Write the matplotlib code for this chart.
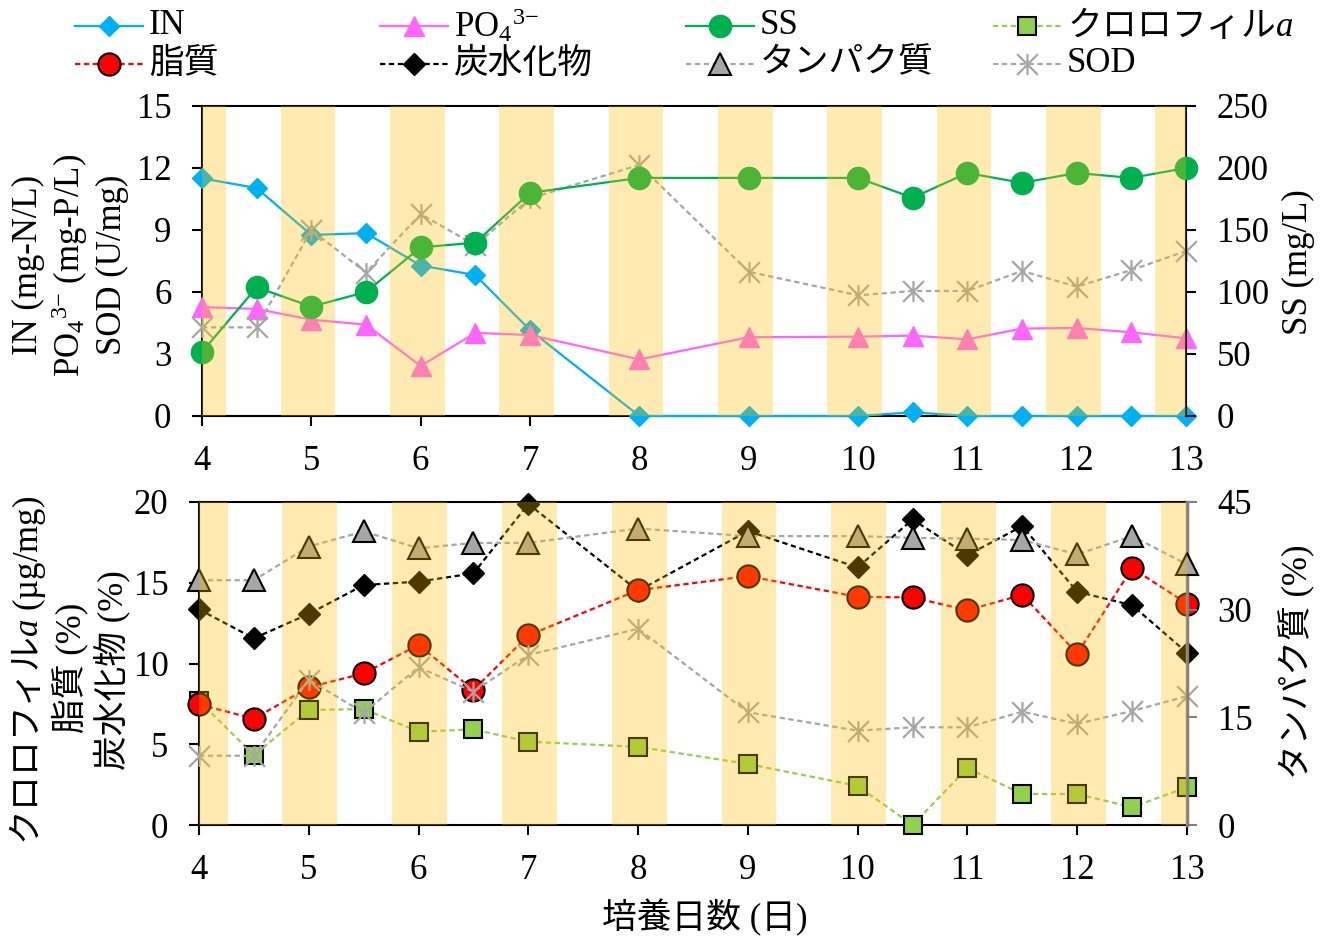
import matplotlib
matplotlib.use("Agg")
import matplotlib.pyplot as plt
from matplotlib.lines import Line2D
from matplotlib.path import Path

plt.rcParams["font.family"] = ["Liberation Serif", "Noto Sans CJK JP"]
plt.rcParams["mathtext.fontset"] = "custom"
plt.rcParams["mathtext.rm"] = "Liberation Serif"
plt.rcParams["mathtext.it"] = "Liberation Serif:italic"
plt.rcParams["mathtext.bf"] = "Liberation Serif:bold"
plt.rcParams["axes.unicode_minus"] = True

# ---- data -------------------------------------------------------------
days = [4, 4.5, 5, 5.5, 6, 6.5, 7, 8, 9, 10, 10.5, 11, 11.5, 12, 12.5, 13]

in_n = [11.5, 11.03, 8.76, 8.85, 7.28, 6.82, 4.16, 0, 0, 0, 0.18, 0, 0, 0, 0, 0]
po4 = [5.27, 5.18, 4.66, 4.42, 2.42, 4.02, 3.92, 2.74, 3.81, 3.84, 3.89, 3.71,
       4.23, 4.26, 4.05, 3.76]
ss = [51.6, 103.8, 88.2, 100.0, 136.0, 139.8, 180.0, 192.0, 192.0, 192.0,
      176.0, 196.0, 188.0, 196.0, 192.0, 200.0]
sod = [4.29, 4.29, 9.0, 6.94, 9.77, 8.26, 10.53, 12.15, 6.98, 5.84, 6.05,
       6.05, 7.02, 6.26, 7.06, 7.98]

chl_a = [7.7, 4.33, 7.12, 7.18, 5.78, 5.92, 5.16, 4.84, 3.78, 2.42, 0.0,
         3.52, 1.92, 1.92, 1.1, 2.34]
lipid = [7.47, 6.58, 8.52, 9.39, 11.15, 8.36, 11.74, 14.54, 15.41, 14.13,
         14.09, 13.3, 14.25, 10.61, 15.9, 13.71]
carb = [13.35, 11.56, 13.07, 14.86, 15.07, 15.58, 19.88, 14.5, 18.2, 15.95,
        18.92, 16.71, 18.51, 14.44, 13.61, 10.67]
protein = [34.1, 34.1, 38.8, 40.9, 38.55, 39.3, 39.3, 41.3, 40.25, 40.25,
           40.0, 39.9, 39.7, 37.7, 40.25, 36.3]

x_ticks = list(range(4, 14))
top_left_ticks = [0, 3, 6, 9, 12, 15]
top_right_ticks = [0, 50, 100, 150, 200, 250]
bot_left_ticks = [0, 5, 10, 15, 20]
bot_right_ticks = [0, 15, 30, 45]
night_days = list(range(4, 14))

# ---- styles -----------------------------------------------------------
W, H = 1326, 942
FS = 25


def fx(px):
    return px / W


def fy(py):
    return 1 - py / H


star = Path([(0, -1), (0, 1), (-1, -1), (1, 1), (-1, 1), (1, -1)],
            [Path.MOVETO, Path.LINETO, Path.MOVETO, Path.LINETO,
             Path.MOVETO, Path.LINETO])
dash = (0, (2.4, 1.6))

sty_in = dict(color="#00B0F0", lw=1.6, marker="D", ms=10.5, mec="#00B0F0")
sty_po4 = dict(color="#FF66FF", lw=1.6, marker="^", ms=15, mec="#FF66FF")
sty_ss = dict(color="#00B050", lw=1.6, marker="o", ms=16, mec="#00B050")
sty_sod = dict(color="#A6A6A6", lw=1.6, ls=dash, marker=star, ms=15,
               mew=1.6, mfc="none", mec="#A6A6A6")
sty_chl = dict(color="#92D050", lw=1.6, ls=dash, marker="s", ms=13,
               mfc="#92D050", mec="black", mew=1.5)
sty_lip = dict(color="#FF0000", lw=1.6, ls=dash, marker="o", ms=16,
               mfc="#FF0000", mec="black", mew=1.5)
sty_carb = dict(color="black", lw=1.6, ls=dash, marker="D", ms=11.5,
                mfc="black", mec="black", mew=1.0)
sty_pro = dict(color="#A6A6A6", lw=1.6, ls=dash, marker="^", ms=16,
               mfc="#A6A6A6", mec="black", mew=1.5)

fig = plt.figure(figsize=(W / 100, H / 100), dpi=100)


def style_axes(ax, axr, right_color="black", right_lw=1.5):
    for side in ("left", "top", "bottom"):
        ax.spines[side].set_linewidth(1.5)
        axr.spines[side].set_visible(False)
    ax.spines["right"].set_visible(False)
    axr.spines["right"].set_linewidth(right_lw)
    axr.spines["right"].set_color(right_color)
    ax.tick_params(axis="x", direction="out", length=7, width=1.5,
                   labelsize=FS, pad=14, top=False)
    ax.tick_params(axis="y", direction="out", length=7, width=1.5,
                   labelsize=FS, pad=15, right=False)
    axr.tick_params(axis="y", direction="out", length=7, width=1.5,
                    labelsize=FS, pad=15, color=right_color)


def night_bands(axr, before, after):
    for d in night_days:
        axr.axvspan(max(4, d - before), min(13, d + after), color="#FFC000",
                    alpha=0.3, lw=0, zorder=20)


# ---- upper panel: water quality ---------------------------------------
ax1 = fig.add_axes([fx(202), fy(416), fx(1186) - fx(202), fy(106) - fy(416)])
ax1r = ax1.twinx()
ax1.plot(days, in_n, clip_on=False, zorder=3, **sty_in)
ax1.plot(days, po4, clip_on=False, zorder=4, **sty_po4)
ax1.plot(days, sod, clip_on=False, zorder=5, **sty_sod)
ax1r.plot(days, ss, clip_on=False, zorder=3, **sty_ss)
night_bands(ax1r, 0.28, 0.22)
ax1.set_xlim(4, 13)
ax1.set_ylim(0, 15)
ax1r.set_ylim(0, 250)
ax1.set_xticks(x_ticks)
ax1.set_yticks(top_left_ticks)
ax1r.set_yticks(top_right_ticks)
style_axes(ax1, ax1r)

# ---- lower panel: cell composition -------------------------------------
ax2 = fig.add_axes([fx(199), fy(825), fx(1187) - fx(199), fy(502) - fy(825)])
ax2r = ax2.twinx()
ax2.plot(days, chl_a, clip_on=False, zorder=3, **sty_chl)
ax2.plot(days, carb, clip_on=False, zorder=4, **sty_carb)
ax2.plot(days, lipid, clip_on=False, zorder=5, **sty_lip)
ax2.plot(days, sod, clip_on=False, zorder=6, **sty_sod)
ax2r.plot(days, protein, clip_on=False, zorder=3, **sty_pro)
night_bands(ax2r, 0.24, 0.26)
ax2.set_xlim(4, 13)
ax2.set_ylim(0, 20)
ax2r.set_ylim(0, 45)
ax2.set_xticks(x_ticks)
ax2.set_yticks(bot_left_ticks)
ax2r.set_yticks(bot_right_ticks)
style_axes(ax2, ax2r, right_color="#808080", right_lw=2.5)

# ---- axis titles -------------------------------------------------------
po4_text = "PO$_4$$^{3{-}}$"
lab = dict(fontsize=FS, rotation=90, ha="center", va="center")
fig.text(fx(28), fy(265), "IN (mg-N/L)", **lab)
fig.text(fx(70), fy(265), po4_text + " (mg-P/L)", **lab)
fig.text(fx(112), fy(265), "SOD (U/mg)", **lab)
fig.text(fx(1298), fy(262), "SS (mg/L)", **lab)

fig.text(fx(28), fy(670), r"クロロフィル$a\ \mathrm{(µg/mg)}$",
         family=["Noto Sans CJK JP"], **lab)
fig.text(fx(70), fy(668), "脂質 (%)", **lab)
fig.text(fx(112), fy(670), "炭水化物 (%)", **lab)
fig.text(fx(1297), fy(662), "タンパク質 (%)", **lab)

fig.text(fx(705), fy(918), "培養日数 (日)", fontsize=FS, ha="center",
         va="center")

# ---- legend ------------------------------------------------------------
entries = [
    (75, 26, "IN", sty_in, None),
    (380, 26, po4_text, sty_po4, None),
    (686, 26, "SS", sty_ss, None),
    (993, 26, r"クロロフィル$a$", sty_chl, ["Noto Sans CJK JP"]),
    (75, 64, "脂質", sty_lip, None),
    (380, 64, "炭水化物", sty_carb, None),
    (686, 64, "タンパク質", sty_pro, None),
    (993, 64, "SOD", sty_sod, None),
]
for x0, y0, text, sty, fam in entries:
    handle = Line2D([fx(x0), fx(x0 + 34), fx(x0 + 68)], [fy(y0)] * 3,
                    transform=fig.transFigure, markevery=[1], **sty)
    fig.add_artist(handle)
    kw = dict(fontsize=FS, ha="left", va="center")
    if fam:
        kw["family"] = fam
    fig.text(fx(x0 + 74), fy(y0), text, **kw)

fig.savefig("out.png", dpi=100)
